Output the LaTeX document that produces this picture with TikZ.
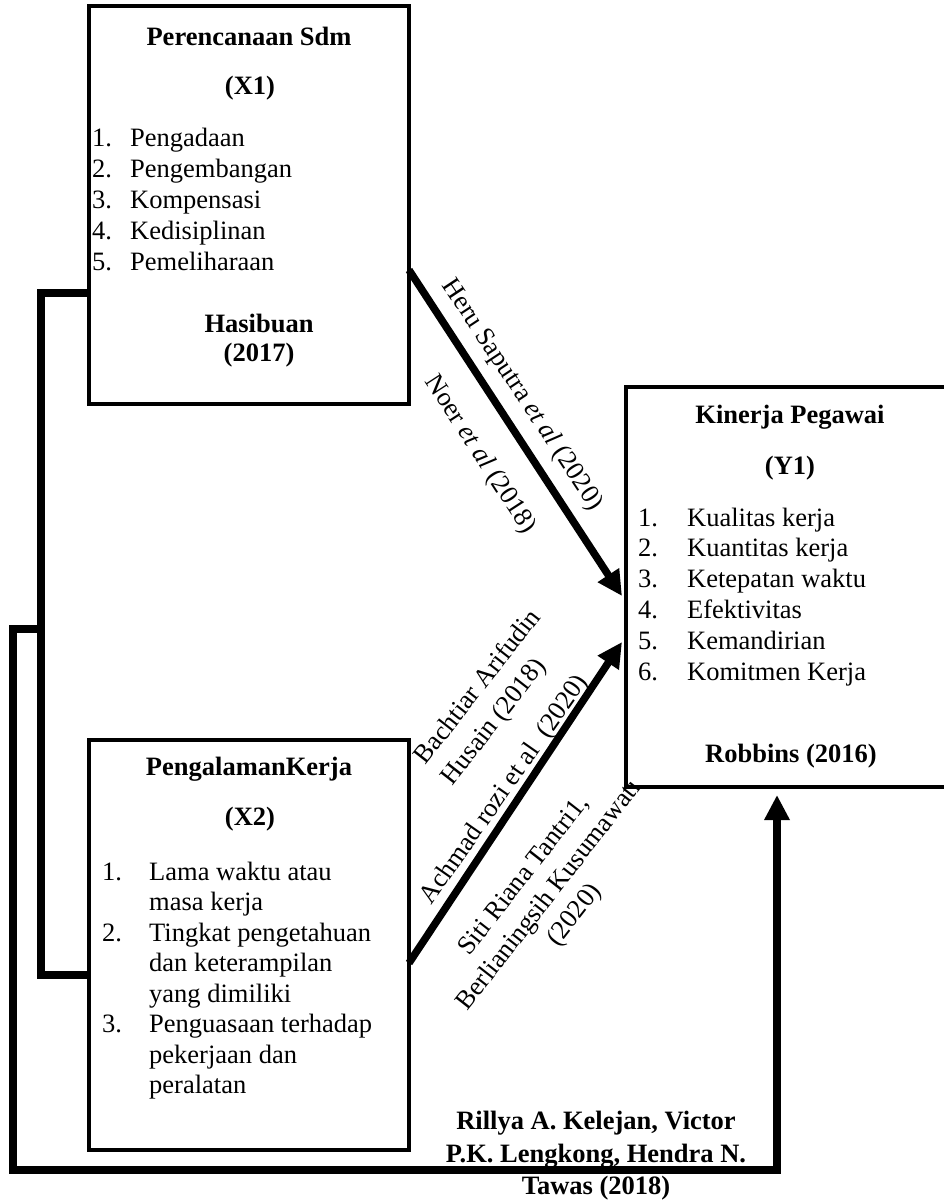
\documentclass[tikz,border=0pt]{standalone}
\usepackage{fontspec}
\setmainfont{Liberation Serif}
\usetikzlibrary{arrows.meta}
\begin{document}
\begin{tikzpicture}[x=1pt,y=-1pt,
  boxshape/.style={draw, line width=4.5pt, inner sep=0pt, rectangle},
  txt/.style={inner sep=0pt, font=\fontsize{26.5}{31}\selectfont},
  btxt/.style={inner sep=0pt, font=\fontsize{26.5}{31}\selectfont\bfseries},
  itemtxt/.style={txt, anchor=base west},
  conn/.style={line width=7.5pt, line join=miter},
  arr/.style={conn, -{Triangle[length=25pt,width=24pt]}}
]
\useasboundingbox (0,0) rectangle (943,1202);

% boxes
\node[boxshape, minimum width=320pt, minimum height=398pt] (x1) at (249,205) {};
\node[boxshape, minimum width=320pt, minimum height=410pt] (x2) at (249,945) {};
\node[boxshape, minimum width=330pt, minimum height=400pt] (y1) at (791,587) {};

% X1 contents
\node[btxt] (x1t) at (249,36) {Perencanaan Sdm};
\node[btxt] (x1v) at (250,88) {(X1)};
\foreach \n/\t [count=\i from 0] in {1./Pengadaan, 2./Pengembangan, 3./Kompensasi, 4./Kedisiplinan, 5./Pemeliharaan}{
  \node[itemtxt] (x1n\i) at (92,{146+31*\i}) {\n};
  \node[itemtxt] (x1i\i) at (130,{146+31*\i}) {\t};
}
\node[btxt] (x1a) at (259,323) {Hasibuan};
\node[btxt] (x1y) at (259,355) {(2017)};

% X2 contents
\node[btxt] (x2t) at (249,769) {PengalamanKerja};
\node[btxt] (x2v) at (250,819) {(X2)};
\node[itemtxt] (x2n1) at (102,880) {1.};
\node[itemtxt] (x2n2) at (102,941) {2.};
\node[itemtxt] (x2n3) at (102,1032.5) {3.};
\foreach \t [count=\i from 0] in {Lama waktu atau, masa kerja, Tingkat pengetahuan, dan keterampilan, yang dimiliki, Penguasaan terhadap, pekerjaan dan, peralatan}{
  \node[itemtxt] (x2i\i) at (149,{880+30.5*\i}) {\t};
}

% Y1 contents
\node[btxt] (y1t) at (790,417) {Kinerja Pegawai};
\node[btxt] (y1v) at (790,468) {(Y1)};
\foreach \n/\t [count=\i from 0] in {1./Kualitas kerja, 2./Kuantitas kerja, 3./Ketepatan waktu, 4./Efektivitas, 5./Kemandirian, 6./Komitmen Kerja}{
  \node[itemtxt] (y1n\i) at (638,{526+30.8*\i}) {\n};
  \node[itemtxt] (y1i\i) at (687,{526+30.8*\i}) {\t};
}
\node[btxt] (y1a) at (791,756) {Robbins (2016)};

% connector points
\coordinate (s1) at (409,270);
\coordinate (t1) at (622,596);
\coordinate (s2) at (409,963);
\coordinate (t2) at (622,642);
\coordinate (j1) at (41,293);
\coordinate (j2) at (41,975);
\coordinate (b1) at (41,629);
\coordinate (b2) at (13,629);
\coordinate (b3) at (13,1170);
\coordinate (b4) at (777,1170);
\coordinate (t3) at (777,795);

% left connectors
\draw[conn] (x1.west |- j1) -- (j1) -- (j2) -- (x2.west |- j2);
\draw[arr] (b1) -- (b2) -- (b3) -- (b4) -- (t3);

% diagonal arrows
\draw[arr] (s1) -- (t1);
\draw[arr] (s2) -- (t2);

% labels
\node[txt, rotate=-56.5] (l1) at (522,395) {Heru Saputra \textit{et al} (2020)};
\node[txt, rotate=-57] (l2) at (480,455) {Noer \textit{et al} (2018)};
\node[inner sep=0pt, font=\fontsize{26.5}{34}\selectfont, rotate=52, align=left] (l3) at (492,698) {Bachtiar Arifudin\\Husain (2018)};
\node[txt, rotate=55] (l4) at (505,790) {Achmad rozi et al\ \ (2020)};
\node[inner sep=0pt, font=\fontsize{26.5}{32}\selectfont, rotate=52, align=center] (l5) at (550,896) {Siti Riana Tantri1,\\Berlianingsih Kusumawati\\(2020)};
\node[inner sep=0pt, font=\fontsize{26.5}{32.5}\selectfont\bfseries, align=center] (l6) at (596,1156) {Rillya A. Kelejan, Victor\\P.K. Lengkong, Hendra N.\\Tawas (2018)};
\end{tikzpicture}
\end{document}
